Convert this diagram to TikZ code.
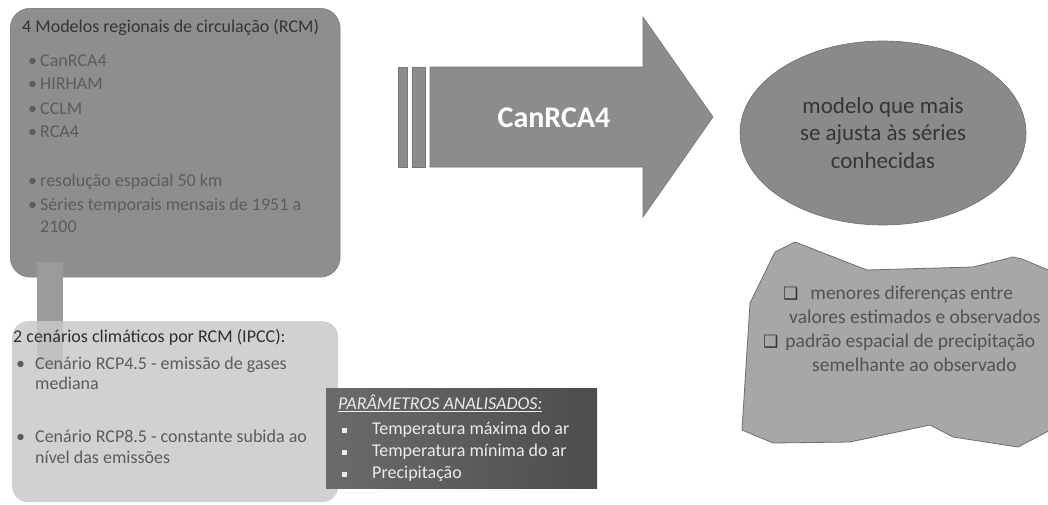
\documentclass[tikz,border=0pt]{standalone}
\usepackage{fontspec}
\setmainfont{Carlito}
\newfontfamily\simbolos{DejaVu Sans}
\usetikzlibrary{shapes.geometric}

\definecolor{cinzaA}{HTML}{8E8E8E}
\definecolor{cinzaB}{HTML}{C9C9C9}
\definecolor{cinzaBarra}{HTML}{9A9A9A}
\definecolor{cinzaSeta}{HTML}{8C8C8C}
\definecolor{cinzaForma}{HTML}{A7A7A7}
\definecolor{borda}{HTML}{6E6E6E}
\definecolor{textoEscuro}{HTML}{353535}
\definecolor{textoClaro}{HTML}{5C5C5C}

\newcommand{\marcador}{\makebox[12pt][l]{•}}
\newcommand{\marcadorB}{\makebox[19pt][l]{•}}
\newcommand{\quadrado}{\makebox[30pt][l]{\raisebox{1.5pt}{\rule{5pt}{5pt}}}}
\newcommand{\caixinha}{{\simbolos\fontsize{17}{17}\selectfont\color{black!80}❑}}

\begin{document}
\begin{tikzpicture}[x=1pt, y=-1pt,
    linha/.style={anchor=west, inner sep=0pt, text height=12pt, text depth=3pt,
        font=\fontsize{18}{22}\selectfont},
    titulo/.style={linha, text=textoEscuro},
    item/.style={linha, text=textoClaro},
    seta/.style={fill=cinzaSeta, draw=cinzaSeta!85!black, line width=0.6pt}
]
    \fill[white] (0,0) rectangle (1048,504);
    \useasboundingbox (0,0) rectangle (1048,504);

    % --- 左上のボックス ---
    \node[anchor=north west, fill=cinzaA, draw=cinzaA!85!black, rounded corners=20pt,
        minimum width=330pt, minimum height=269pt] (modelos) at (10,8) {};
    \node[titulo] (tituloA) at (22,28) {4 Modelos regionais de circulação (RCM)};
    \foreach \y/\txt [count=\i] in {62/CanRCA4, 85/HIRHAM, 110/CCLM, 133/RCA4,
            182/resolução espacial 50 km, 206/Séries temporais mensais de 1951 a} {
        \node[item] (itemA\i) at (28,\y) {\marcador\txt};
    }
    \node[item] (itemA7) at (40,228) {2100};

    % --- 縦のバー ---
    \coordinate (barraA) at (50,262);
    \coordinate (barraB) at (50,369);
    \draw[line width=26pt, cinzaBarra] (barraA) -- (barraB);

    % --- 左下のボックス ---
    \node[anchor=north west, fill=cinzaB, fill opacity=0.85, rounded corners=16pt,
        minimum width=326pt, minimum height=181pt] (cenarios) at (12,321) {};
    \node[titulo, text=textoEscuro!90!black] (tituloB) at (13,338) {2 cenários climáticos por RCM (IPCC):};
    \node[item] (itemB1) at (16,365) {\marcadorB Cenário RCP4.5 - emissão de gases};
    \node[item] (itemB2) at (35,385) {mediana};
    \node[item] (itemB3) at (16,438) {\marcadorB Cenário RCP8.5 - constante subida ao};
    \node[item] (itemB4) at (35,459) {nível das emissões};

    % --- パラメータ ---
    \node[anchor=north west, left color=black!58, right color=black!70,
        minimum width=271pt, minimum height=100pt] (parametros) at (326,388) {};
    \node[linha, text=white!92!black] (tituloC) at (338,405)
        {\underline{\textit{PARÂMETROS ANALISADOS:}}};
    \foreach \y/\txt [count=\i] in {430/Temperatura máxima do ar,
            452/Temperatura mínima do ar, 474/Precipitação} {
        \node[linha, text=white!92!black] (itemC\i) at (342,\y) {\quadrado\txt};
    }

    % --- 矢印 ---
    \foreach \a/\b in {398/407, 412/425} {
        \fill[seta] (\a,67) rectangle (\b,167);
    }
    \fill[seta] (430,67) -- (643,67) -- (643,17) -- (713,117) -- (643,217)
        -- (643,167) -- (430,167) -- cycle;
    \node[text=white, font=\fontsize{30}{36}\selectfont\bfseries] (melhor) at (554,118) {CanRCA4};

    % --- 楕円 ---
    \node[ellipse, fill=cinzaA!97!black, draw=borda, line width=0.6pt,
        minimum width=286pt, minimum height=184pt, align=center, text=textoEscuro,
        font=\fontsize{23}{27.5}\selectfont] (ajuste) at (883,133)
        {modelo que mais\\se ajusta às séries\\conhecidas};

    % --- 不規則な図形 ---
    \draw[fill=cinzaForma, draw=borda, line width=0.8pt]
        (795,242) -- (775,252) -- (750,303) -- (742,430) -- (773,443) -- (850,442)
        -- (930,425) -- (953,437) -- (1018,447) -- (1060,425) -- (1060,275)
        -- (1022,259) -- (1013,257) -- (973,267) -- (867,270) -- cycle;
    \begin{scope}[every node/.style={linha, text=black!68,
            font=\fontsize{19.5}{24}\selectfont}]
        \node (criterio1) at (783,295) {\caixinha\hspace{12pt}menores diferenças entre};
        \node (criterio2) at (789,319) {valores estimados e observados};
        \node (criterio3) at (763,343) {\caixinha\hspace{7pt}padrão espacial de precipitação};
        \node (criterio4) at (812,367) {semelhante ao observado};
    \end{scope}

\end{tikzpicture}
\end{document}
